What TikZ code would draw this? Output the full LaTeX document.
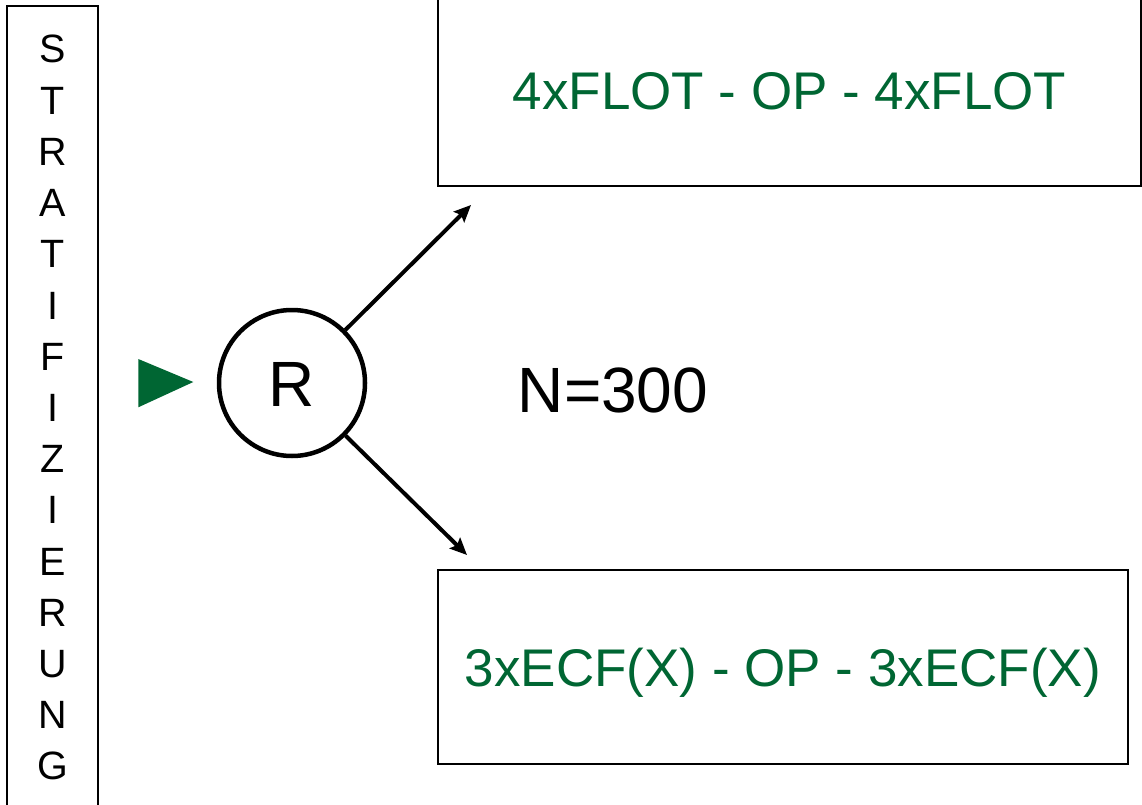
\documentclass[tikz,border=0pt]{standalone}
\usepackage{fontspec}
\setmainfont{Liberation Sans}
\usetikzlibrary{arrows.meta}
\definecolor{dgreen}{RGB}{0,102,51}
\begin{document}
\begin{tikzpicture}[x=1pt,y=-1pt,
  boxframe/.style={draw=black, line width=2pt, rectangle, inner sep=0pt},
  letter/.style={font=\fontsize{39.5}{39.5}\selectfont, text height=28pt, text depth=0pt, inner sep=0pt},
  boxtext/.style={font=\fontsize{53}{53}\selectfont, text=dgreen, text height=38pt, text depth=0pt},
  bigtext/.style={font=\fontsize{64}{64}\selectfont, text height=46pt, text depth=0pt, inner sep=0pt},
  conn/.style={line width=4pt, -{Stealth[length=17pt,width=15pt,inset=3pt]}}
]
\useasboundingbox (0,0) rectangle (1142,805);
\clip (0,0) rectangle (1142,805);
% stratification column
\node[boxframe, minimum width=91pt, minimum height=809pt] (strat) at (52.5,410.5) {};
\foreach \ch [count=\i] in {S,T,R,A,T,I,F,I,Z,I,E,R,U,N,G}{
  \node[letter] (l\i) at (52.5,{49+(\i-1)*51.2}) {\ch};
}
% arm boxes
\node[boxframe, boxtext, minimum width=703pt, minimum height=190pt] (top) at (789.5,91) {4xFLOT - OP - 4xFLOT};
\node[boxframe, boxtext, minimum width=690pt, minimum height=194pt] (bot) at (783,667) {3xECF(X) - OP - 3xECF(X)};
% randomisation
\node[circle, draw=black, line width=4.5pt, minimum size=146pt, bigtext] (R) at (292,383) {R};
\node[bigtext] (N) at (613,389.5) {N=300};
% green pointer
\fill[dgreen] (138.3,359) -- (193.3,382) -- (138.3,407.3) -- cycle;
% connectors
\coordinate (t1) at (471,205);
\coordinate (t2) at (467,555);
\draw[conn] (R) -- (t1);
\draw[conn] (R) -- (t2);
\end{tikzpicture}
\end{document}
